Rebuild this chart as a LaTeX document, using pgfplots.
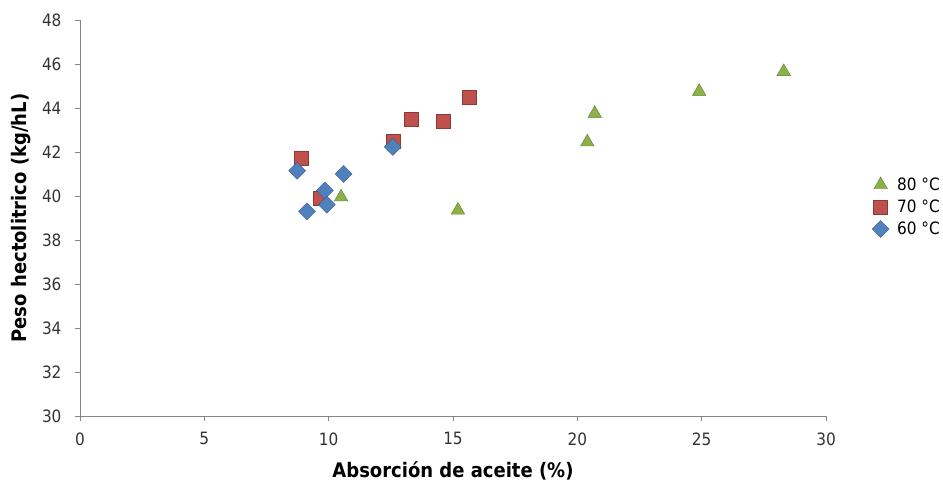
\documentclass[border=0pt]{standalone}
\usepackage{pgfplots}
\pgfplotsset{compat=1.18}
\usepackage{fontspec}
\setmainfont{DejaVu Sans Condensed}
\definecolor{axgray}{HTML}{868686}
\definecolor{tgreen}{HTML}{8DB048}
\definecolor{tgreenD}{HTML}{5E7A2C}
\definecolor{sred}{HTML}{C0504D}
\definecolor{sredD}{HTML}{8C3836}
\definecolor{dblue}{HTML}{4F81BD}
\definecolor{dblueD}{HTML}{385D8A}
\begin{document}
\begin{tikzpicture}
\useasboundingbox (-80bp,-71bp) rectangle (863bp,416bp);
\begin{axis}[
  at={(0,0)}, anchor=south west,
  scale only axis, width=746bp, height=396bp,
  xmin=0, xmax=30, ymin=30, ymax=48,
  xtick={0,5,...,30}, ytick={30,32,...,48},
  axis x line*=bottom, axis y line*=left,
  axis line style={axgray, line width=0.8pt, -},
  tick style={axgray, line width=0.8pt},
  tick align=outside, major tick length=5bp,
  /pgf/number format/assume math mode=true,
  ticklabel style={font=\fontsize{17bp}{19bp}\selectfont, text=black!80},
  xticklabel style={yshift=-8bp},
  yticklabel style={xshift=-10bp},
  xlabel={\textbf{Absorción de aceite (\%)}},
  ylabel={\textbf{Peso hectolitrico (kg/hL)}},
  label style={font=\fontsize{20bp}{23bp}\selectfont},
  xlabel style={yshift=-9bp},
  ylabel style={yshift=4bp},
  legend style={at={([xshift=43bp]1,0.528)}, anchor=west, draw=none, fill=none,
    font=\fontsize{17bp}{19bp}\selectfont, row sep=4bp,
    /tikz/every odd column/.append style={column sep=6bp}},
  legend cell align=left,
  clip=false,
]
\addplot[only marks, mark=triangle*, mark size=7.8bp, mark options={fill=tgreen, draw=tgreenD, line width=0.4pt}]
coordinates {(10.5,39.95) (15.2,39.35) (20.4,42.45) (20.7,43.75) (24.9,44.75) (28.3,45.65)};
\addlegendentry{80 °C}
\addplot[only marks, mark=square*, mark size=7bp, mark options={fill=sred, draw=sredD, line width=0.4pt}]
coordinates {(8.9,41.7) (9.65,39.9) (12.6,42.5) (13.3,43.5) (14.6,43.4) (15.65,44.5)};
\addlegendentry{70 °C}
\addplot[only marks, mark=square*, mark size=6bp, mark options={rotate=45, fill=dblue, draw=dblueD, line width=0.4pt}]
coordinates {(8.73,41.15) (9.13,39.3) (9.85,40.25) (9.93,39.6) (10.6,41.0) (12.58,42.23)};
\addlegendentry{60 °C}
\end{axis}
\end{tikzpicture}
\end{document}
